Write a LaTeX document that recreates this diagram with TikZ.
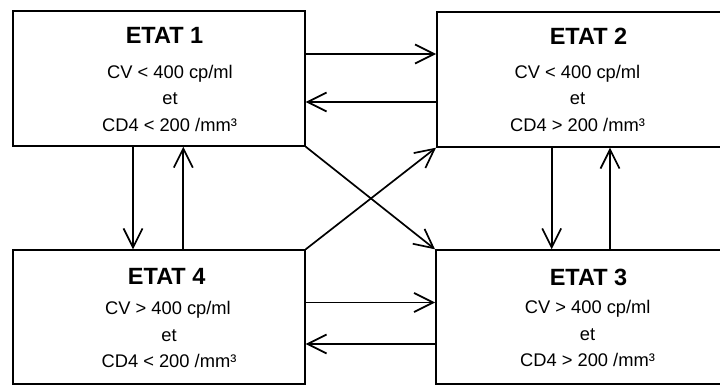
\documentclass[tikz,border=0pt]{standalone}
\usepackage{fontspec}
\setmainfont{Liberation Sans}
\usetikzlibrary{arrows.meta}
\begin{document}
\begin{tikzpicture}[x=1pt,y=-1pt,
  box/.style={draw, line width=1.7pt, rectangle, inner sep=0pt, anchor=north west},
  arr/.style={line width=1.7pt, -{Straight Barb[length=19pt,width=19pt,line width=1.7pt]}},
  head/.style={inner sep=0pt, anchor=base, font=\fontsize{23.5}{26}\selectfont\bfseries},
  txt/.style={inner sep=0pt, anchor=base, font=\fontsize{18.3}{21}\selectfont}]
\useasboundingbox (0,0) rectangle (720,385);
\clip (0,0) rectangle (720,385);
% boxes
\node[box, minimum width=292pt, minimum height=135pt] (b1) at (12,10) {};
\node[box, minimum width=304pt, minimum height=135pt] (b2) at (436,11) {};
\node[box, minimum width=305pt, minimum height=134pt] (b3) at (435,249.3) {};
\node[box, minimum width=292pt, minimum height=134pt] (b4) at (12,249.3) {};
% texts box 1
\node[head] (h1) at (164.5,43.5) {ETAT 1};
\node[txt] (a1) at (170,78.3) {CV < 400 cp/ml};
\node[txt] (e1) at (170,105) {et};
\node[txt] (c1) at (169.5,131.7) {CD4 < 200 /mm³};
% texts box 2
\node[head] (h2) at (588.5,45) {ETAT 2};
\node[txt] (a2) at (577.5,78.3) {CV < 400 cp/ml};
\node[txt] (e2) at (577.5,105) {et};
\node[txt] (c2) at (577.5,131.7) {CD4 > 200 /mm³};
% texts box 3
\node[head] (h3) at (588.5,285) {ETAT 3};
\node[txt] (a3) at (587.7,313.5) {CV > 400 cp/ml};
\node[txt] (e3) at (587.5,340) {et};
\node[txt] (c3) at (587.5,366.5) {CD4 > 200 /mm³};
% texts box 4
\node[head] (h4) at (166.7,284.5) {ETAT 4};
\node[txt] (a4) at (168,314) {CV > 400 cp/ml};
\node[txt] (e4) at (169,341) {et};
\node[txt] (c4) at (169,367.5) {CD4 < 200 /mm³};
% horizontal connectors
\draw[arr] (b1.north east |- 0,54) -- (b2.north west |- 0,54);
\draw[arr] (b2.north west |- 0,102) -- (b1.north east |- 0,102);
\draw[arr] (b4.north east |- 0,302.5) -- (b3.north west |- 0,302.5);
\draw[arr] (b3.north west |- 0,344) -- (b4.north east |- 0,344);
% vertical connectors
\draw[arr] (b1.south west -| 133,0) -- (b4.north west -| 133,0);
\draw[arr] (b4.north west -| 183.3,0) -- (b1.south west -| 183.3,0);
\draw[arr] (b2.south west -| 551.7,0) -- (b3.north west -| 551.7,0);
\draw[arr] (b3.north west -| 610,0) -- (b2.south west -| 610,0);
% diagonal connectors
\draw[arr] (b1.south east) -- (b3.north west);
\draw[arr] (b4.north east) -- (b2.south west);
\end{tikzpicture}
\end{document}
